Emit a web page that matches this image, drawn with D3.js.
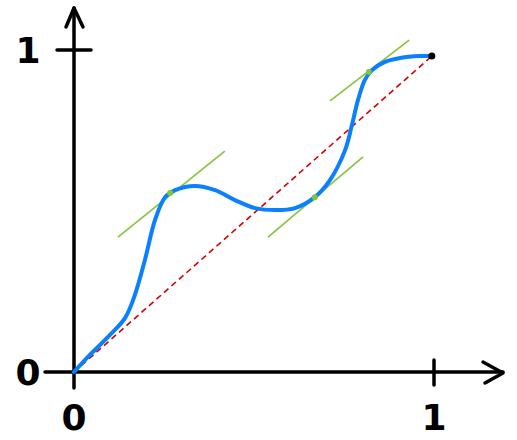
<!DOCTYPE html>
<html>
<head>
<meta charset="utf-8">
<script src="https://cdn.jsdelivr.net/npm/d3@7"></script>
<style>
  body { margin: 0; background: #fff; }
  svg { display: block; }
</style>
</head>
<body>
<svg width="517" height="440"></svg>
<script>
// curve (data units, 0..1)
var curveX = [0, 0.044, 0.1, 0.142, 0.169, 0.197, 0.225, 0.253, 0.281, 0.336, 0.392, 0.447, 0.503, 0.558, 0.614, 0.669, 0.711, 0.753, 0.772, 0.789, 0.808, 0.828, 0.864, 0.906, 0.961, 0.994];
var curveY = [0, 0.053, 0.115, 0.168, 0.239, 0.348, 0.472, 0.543, 0.565, 0.578, 0.565, 0.534, 0.509, 0.503, 0.509, 0.543, 0.596, 0.689, 0.767, 0.845, 0.907, 0.938, 0.963, 0.975, 0.981, 0.981];

// tangent segments: touch point + two ends
var tanX  = [0.267, 0.669, 0.819];
var tanY  = [0.556, 0.543, 0.932];
var tanX0 = [0.122, 0.539, 0.711];
var tanY0 = [0.419, 0.419, 0.842];
var tanX1 = [0.419, 0.803, 0.931];
var tanY1 = [0.686, 0.668, 1.031];

var xTicks = [0, 1];
var yTicks = [0, 1];

var svg = d3.select('svg');

var x = d3.scaleLinear().domain([0, 1]).range([74, 434]);
var y = d3.scaleLinear().domain([0, 1]).range([372, 50]);

var black = '#000';

// axes
svg.append('line')
    .attr('x1', 45).attr('y1', y(0))
    .attr('x2', 503).attr('y2', y(0))
    .attr('stroke', black).attr('stroke-width', 3.5).attr('stroke-linecap', 'round');
svg.append('line')
    .attr('x1', x(0)).attr('y1', 388)
    .attr('x2', x(0)).attr('y2', 8)
    .attr('stroke', black).attr('stroke-width', 3.5).attr('stroke-linecap', 'round');

// arrow heads
svg.append('path')
    .attr('d', 'M483,362 L503,373 L485,383')
    .attr('fill', 'none').attr('stroke', black).attr('stroke-width', 3.5)
    .attr('stroke-linecap', 'round').attr('stroke-linejoin', 'round');
svg.append('path')
    .attr('d', 'M66,27 L74,8 L83,27')
    .attr('fill', 'none').attr('stroke', black).attr('stroke-width', 3.5)
    .attr('stroke-linecap', 'round').attr('stroke-linejoin', 'round');

// tick marks (only at 1, 0 is the crossing)
svg.selectAll('.xtick')
    .data(xTicks.filter(function(d){ return d > 0; }))
    .enter()
    .append('line')
    .attr('x1', function(d){ return x(d); })
    .attr('x2', function(d){ return x(d); })
    .attr('y1', y(0) - 12).attr('y2', y(0) + 13)
    .attr('stroke', black).attr('stroke-width', 3.5).attr('stroke-linecap', 'round');
svg.selectAll('.ytick')
    .data(yTicks.filter(function(d){ return d > 0; }))
    .enter()
    .append('line')
    .attr('x1', x(0) - 17).attr('x2', x(0) + 17)
    .attr('y1', function(d){ return y(d); })
    .attr('y2', function(d){ return y(d); })
    .attr('stroke', black).attr('stroke-width', 3.5).attr('stroke-linecap', 'round');

// tick labels
svg.selectAll('.xlab')
    .data(xTicks)
    .enter()
    .append('text')
    .attr('x', function(d){ return x(d); })
    .attr('y', 430)
    .attr('text-anchor', 'middle')
    .attr('font-family', 'DejaVu Sans')
    .attr('font-weight', 'bold')
    .attr('font-size', 36)
    .text(function(d){ return d; });
svg.selectAll('.ylab')
    .data(yTicks)
    .enter()
    .append('text')
    .attr('x', 28)
    .attr('y', function(d){ return y(d) + 13; })
    .attr('text-anchor', 'middle')
    .attr('font-family', 'DejaVu Sans')
    .attr('font-weight', 'bold')
    .attr('font-size', 36)
    .text(function(d){ return d; });

// diagonal
svg.append('line')
    .attr('x1', x(0)).attr('y1', y(0))
    .attr('x2', x(curveX[curveX.length - 1])).attr('y2', y(curveY[curveY.length - 1]))
    .attr('stroke', '#d40000').attr('stroke-width', 1.6)
    .attr('stroke-dasharray', '6,4');

// tangents
var tangents = tanX.map(function(d, i){
    return {x: d, y: tanY[i], x0: tanX0[i], y0: tanY0[i], x1: tanX1[i], y1: tanY1[i]};
});
svg.selectAll('.tan')
    .data(tangents)
    .enter()
    .append('line')
    .attr('x1', function(d){ return x(d.x0); })
    .attr('y1', function(d){ return y(d.y0); })
    .attr('x2', function(d){ return x(d.x1); })
    .attr('y2', function(d){ return y(d.y1); })
    .attr('stroke', '#84c43a').attr('stroke-width', 1.6);

// blue curve
var pts = curveX.map(function(d, i){ return [d, curveY[i]]; });
var line = d3.line()
    .x(function(d){ return x(d[0]); })
    .y(function(d){ return y(d[1]); })
    .curve(d3.curveCatmullRom);
svg.append('path')
    .datum(pts)
    .attr('d', line)
    .attr('fill', 'none')
    .attr('stroke', '#0a80ff')
    .attr('stroke-width', 4)
    .attr('stroke-linecap', 'round');

// touch points
svg.selectAll('.tdot')
    .data(tangents)
    .enter()
    .append('circle')
    .attr('cx', function(d){ return x(d.x); })
    .attr('cy', function(d){ return y(d.y); })
    .attr('r', 3)
    .attr('fill', '#84c43a');

// end dot
svg.append('circle')
    .attr('cx', x(curveX[curveX.length - 1]))
    .attr('cy', y(curveY[curveY.length - 1]))
    .attr('r', 3.5)
    .attr('fill', black);
</script>
</body>
</html>
